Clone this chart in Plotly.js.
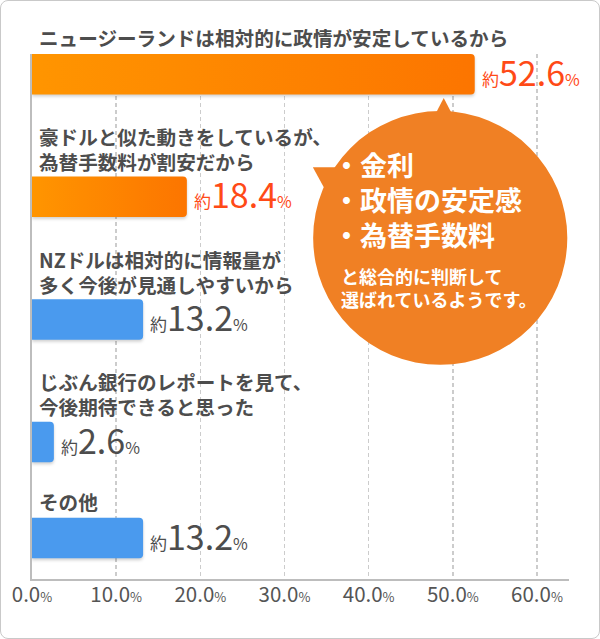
<!DOCTYPE html>
<html><head><meta charset="utf-8">
<script src="https://cdn.plot.ly/plotly-3.0.1.min.js"></script>
<style>
html,body{margin:0;padding:0;background:#fff;}
#wrap{position:relative;width:600px;height:639px;}
#chart{width:600px;height:639px;}
#frame{position:absolute;left:0;top:0;width:600px;height:639px;box-sizing:border-box;border:1px solid #c9c9c9;border-radius:8px;pointer-events:none;}
</style></head><body>
<div id="wrap"><div id="chart"></div><div id="frame"></div></div>
<script>
// ---- data ----
const categories = [
  "ニュージーランドは相対的に政情が安定しているから",
  "豪ドルと似た動きをしているが、<br>為替手数料が割安だから",
  "NZドルは相対的に情報量が<br>多く今後が見通しやすいから",
  "じぶん銀行のレポートを見て、<br>今後期待できると思った",
  "その他"
];
const values = [52.6, 18.4, 13.2, 2.6, 13.2];
const tickValues = [0, 10, 20, 30, 40, 50, 60];
const tickLabels = ["0.0", "10.0", "20.0", "30.0", "40.0", "50.0", "60.0"];
const valuePrefix = "約";
const valueSuffix = "%";
const bubbleBullets = ["・金利", "・政情の安定感", "・為替手数料"];
const bubbleNote = ["と総合的に判断して", "選ばれているようです。"];

// ---- styles / layout constants ----
const FONT = "Noto Sans CJK JP, Noto Sans, sans-serif";
const highlightCount = 2;
const orange = "#FD8600", blue = "#4A9AEE", red = "#FF4A17", gray = "#4D4D4D";
const W = 600, H = 639;
const M = {l: 32, r: 31.3, t: 54, b: 59.7};
const plotW = W - M.l - M.r, plotH = H - M.t - M.b;
const barH = 40.5, firstRow = 20.2, rowBase = 69.3, rowPerLine = 26.7;
const lineGap = 23, labelGap = 16;

const lineCounts = categories.map(c => c.split("<br>").length);
const rows = [];
lineCounts.forEach((n, i) => {
  rows.push(i === 0 ? firstRow : rows[i - 1] + rowBase + rowPerLine * n);
});
const barColors = values.map((v, i) => i < highlightCount ? orange : blue);
const textColors = values.map((v, i) => i < highlightCount ? red : gray);

const px2x = px => (px - M.l) / plotW;
const py2y = py => 1 - (py - M.t) / plotH;

const annotations = [];
categories.forEach((c, i) => {
  annotations.push({
    x: 0, y: rows[i], xref: "x", yref: "y", xanchor: "left", yanchor: "middle", align: "left",
    xshift: 5, yshift: barH / 2 + labelGap + (lineCounts[i] - 1) * lineGap / 2,
    text: c, showarrow: false,
    font: {family: FONT, size: 19.6, color: gray, weight: "bold"}
  });
  annotations.push({
    x: values[i], y: rows[i], xref: "x", yref: "y", xanchor: "left", yanchor: "middle",
    xshift: 5, yshift: 3, showarrow: false,
    text: valuePrefix + "<span style='font-size:34px'>" + values[i].toFixed(1) +
      "</span><span style='font-size:16px'>" + valueSuffix + "</span>",
    font: {family: FONT, size: 17, color: textColors[i]}
  });
});
// bubble text
annotations.push({
  x: px2x(331), y: py2y(200), xref: "paper", yref: "paper",
  xanchor: "left", yanchor: "middle", align: "left", showarrow: false,
  text: bubbleBullets.join("<br>"),
  font: {family: FONT, size: 27, color: "#ffffff", weight: "bold"}
});
annotations.push({
  x: px2x(339), y: py2y(288), xref: "paper", yref: "paper",
  xanchor: "left", yanchor: "middle", align: "left", showarrow: false,
  text: bubbleNote.join("<br>"),
  font: {family: FONT, size: 18, color: "#ffffff", weight: "bold"}
});

const bubbleColor = "#F08024";
const tri = pts => "M " + pts.map(p => px2x(p[0]) + "," + py2y(p[1])).join(" L ") + " Z";
const shapes = [
  {type: "circle", xref: "paper", yref: "paper", x0: px2x(313), x1: px2x(567), y0: py2y(111), y1: py2y(365),
   fillcolor: bubbleColor, line: {width: 0}, layer: "above"},
  {type: "path", xref: "paper", yref: "paper", path: tri([[443.5, 98], [430, 124], [457, 124]]),
   fillcolor: bubbleColor, line: {width: 0}, layer: "above"},
  {type: "path", xref: "paper", yref: "paper", path: tri([[312.7, 167.3], [350, 167.3], [330.6, 200]]),
   fillcolor: bubbleColor, line: {width: 0}, layer: "above"}
];

const trace = {
  type: "bar", orientation: "h", x: values, y: rows, width: barH,
  marker: {color: barColors, cornerradius: 4, line: {width: 0}},
  hoverinfo: "none"
};

const layout = {
  width: W, height: H, margin: M, paper_bgcolor: "#ffffff", plot_bgcolor: "#ffffff",
  showlegend: false, font: {family: FONT},
  xaxis: {
    range: [0, 63.8], tickvals: tickValues,
    ticktext: tickLabels.map(t => t + "<span style='font-size:13px'>" + valueSuffix + "</span>"),
    tickfont: {family: FONT, size: 20.5, color: "#555555"}, ticks: "", ticklabelstandoff: -4,
    showgrid: true, gridcolor: "#cccccc", gridwidth: 1.5, griddash: "4px,3px",
    showline: true, linecolor: "#bdbdbd", linewidth: 2, zeroline: false, fixedrange: true
  },
  yaxis: {
    range: [plotH, 0], showgrid: false, zeroline: false, showticklabels: false, ticks: "",
    showline: true, linecolor: "#bdbdbd", linewidth: 2, fixedrange: true
  },
  annotations: annotations, shapes: shapes
};

function applyGradient(gd) {
  const svg = gd.querySelector("svg.main-svg");
  if (!svg) return;
  let defs = svg.querySelector("defs");
  if (!defs) { defs = document.createElementNS("http://www.w3.org/2000/svg", "defs"); svg.prepend(defs); }
  if (!defs.querySelector("#barGradOrange")) {
    const g = document.createElementNS("http://www.w3.org/2000/svg", "linearGradient");
    g.setAttribute("id", "barGradOrange");
    g.setAttribute("x1", "0"); g.setAttribute("y1", "0"); g.setAttribute("x2", "1"); g.setAttribute("y2", "0");
    [["0", "#FF9500"], ["1", "#FC7500"]].forEach(s => {
      const st = document.createElementNS("http://www.w3.org/2000/svg", "stop");
      st.setAttribute("offset", s[0]); st.setAttribute("stop-color", s[1]);
      g.appendChild(st);
    });
    defs.appendChild(g);
  }
  const paths = gd.querySelectorAll(".barlayer .point path");
  paths.forEach((p, i) => {
    if (i < highlightCount) p.style.fill = "url(#barGradOrange)";
    p.style.filter = "drop-shadow(0px 2px 1.5px rgba(0,0,0,0.18))";
  });
}

const gd = document.getElementById("chart");
Plotly.newPlot(gd, [trace], layout, {displayModeBar: false, staticPlot: true}).then(() => applyGradient(gd));
</script>
</body></html>
